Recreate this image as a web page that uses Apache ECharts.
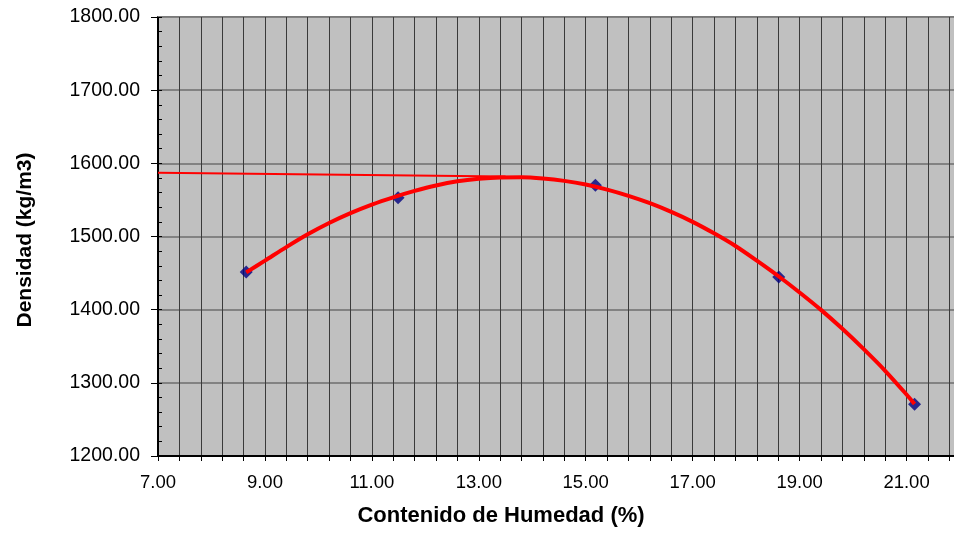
<!DOCTYPE html>
<html>
<head>
<meta charset="utf-8">
<script src="https://cdn.jsdelivr.net/npm/echarts@6/dist/echarts.min.js"></script>
<style>
  html, body { margin: 0; padding: 0; background: #ffffff; }
  #chart { width: 954px; height: 535px; }
</style>
</head>
<body>
<div id="chart"></div>
<script>
// Proctor test results: moisture content (%) vs dry density (kg/m3)
const humedad = [8.65, 11.49, 15.18, 18.61, 21.15];
const densidad = [1451.5, 1553, 1570, 1444.7, 1270.7];

// Fitted compaction curve, sampled along moisture content
const curvaX = [8.65, 9.0, 9.4, 9.8, 10.2, 10.6, 11.0, 11.4, 11.8, 12.2, 12.6, 13.0, 13.4, 13.8, 14.2, 14.6, 15.0, 15.4, 15.8, 16.2, 16.6, 17.0, 17.4, 17.8, 18.2, 18.6, 19.0, 19.4, 19.8, 20.2, 20.6, 21.0, 21.15];
const curvaY = [1451, 1467, 1485.5, 1503, 1518.5, 1532, 1543.7, 1553.6, 1562.3, 1569.8, 1575.5, 1579, 1580.8, 1581, 1579.3, 1576, 1571, 1564, 1555.5, 1545.5, 1533.6, 1520, 1504.3, 1487, 1467, 1446, 1423.5, 1399.7, 1373.8, 1346, 1316.5, 1284, 1271];

// Guide line from the density axis to the curve's peak
const guiaX = [7.0, 13.5];
const guiaY = [1587, 1582];

// Axis ranges
const xMin = 7, xMax = 22, xStep = 2;
const yMin = 1200, yMax = 1800, yStep = 100;

const zip = (a, b) => a.map((v, i) => [v, b[i]]);

const FONT = 'Liberation Sans, Arial, sans-serif';

const chart = echarts.init(document.getElementById('chart'), null, { renderer: 'canvas' });

chart.setOption({
  animation: false,
  backgroundColor: '#ffffff',
  textStyle: { fontFamily: FONT },
  grid: {
    left: 158, top: 17, right: -6, bottom: 79,
    show: true,
    backgroundColor: '#c0c0c0',
    borderWidth: 0,
    containLabel: false,
    outerBoundsMode: 'none'
  },
  xAxis: {
    type: 'value',
    min: xMin, max: xMax, interval: xStep,
    axisLine: { show: true, onZero: false, lineStyle: { color: '#000', width: 2 } },
    axisTick: { show: true, inside: false, length: 5, lineStyle: { color: '#000', width: 1 } },
    minorTick: { show: true, splitNumber: 5, length: 5, lineStyle: { color: '#000', width: 1 } },
    splitLine: { show: true, lineStyle: { color: '#3a3a3a', width: 1 } },
    minorSplitLine: { show: true, lineStyle: { color: '#3a3a3a', width: 1 } },
    axisLabel: {
      color: '#000', fontSize: 18.5, margin: 17,
      fontFamily: FONT,
      formatter: v => (v >= xMax ? '' : v.toFixed(2))
    }
  },
  yAxis: [
    {
      // labels, inner minor ticks and horizontal grid
      type: 'value',
      position: 'left',
      min: yMin, max: yMax, interval: yStep,
      axisLine: { show: true, onZero: false, lineStyle: { color: '#000', width: 2 } },
      axisTick: { show: true, inside: true, length: 4, lineStyle: { color: '#000', width: 1 } },
      minorTick: { show: true, splitNumber: 5, length: 4, lineStyle: { color: '#000', width: 1 } },
      splitLine: { show: true, lineStyle: { color: '#6e6e6e', width: 1.5 } },
      axisLabel: {
        color: '#000', fontSize: 19.5, margin: 18,
        fontFamily: FONT,
        formatter: v => v.toFixed(2)
      }
    },
    {
      // outer major ticks on the same scale
      type: 'value',
      position: 'left',
      offset: 0,
      min: yMin, max: yMax, interval: yStep,
      axisLine: { show: false },
      axisTick: { show: true, inside: false, length: 7, lineStyle: { color: '#000', width: 1 } },
      splitLine: { show: false },
      axisLabel: { show: false }
    }
  ],
  graphic: [
    {
      type: 'rect', z: 5, silent: true,
      shape: { x: 158, y: 16, width: 800, height: 1 },
      style: { fill: '#7a7a7a' }
    },
    {
      type: 'text', z: 10,
      x: 501, y: 516,
      style: {
        text: 'Contenido de Humedad (%)',
        fill: '#000', font: 'bold 22px "Liberation Sans", Arial, sans-serif',
        align: 'center', verticalAlign: 'middle'
      }
    },
    {
      type: 'text', z: 10,
      x: 25, y: 240, rotation: Math.PI / 2,
      style: {
        text: 'Densidad (kg/m3)',
        fill: '#000', font: 'bold 21px "Liberation Sans", Arial, sans-serif',
        align: 'center', verticalAlign: 'middle'
      }
    }
  ],
  series: [
    {
      name: 'guia',
      type: 'line',
      data: zip(guiaX, guiaY),
      symbol: 'none',
      lineStyle: { color: '#ff0000', width: 2 },
      z: 2
    },
    {
      name: 'ensayos',
      type: 'scatter',
      data: zip(humedad, densidad),
      symbol: 'diamond',
      symbolSize: 13,
      itemStyle: { color: '#000080' },
      z: 3
    },
    {
      name: 'curva',
      type: 'line',
      data: zip(curvaX, curvaY),
      smooth: 0.3,
      symbol: 'none',
      lineStyle: { color: '#ff0000', width: 4 },
      z: 4
    }
  ]
});
</script>
</body>
</html>
